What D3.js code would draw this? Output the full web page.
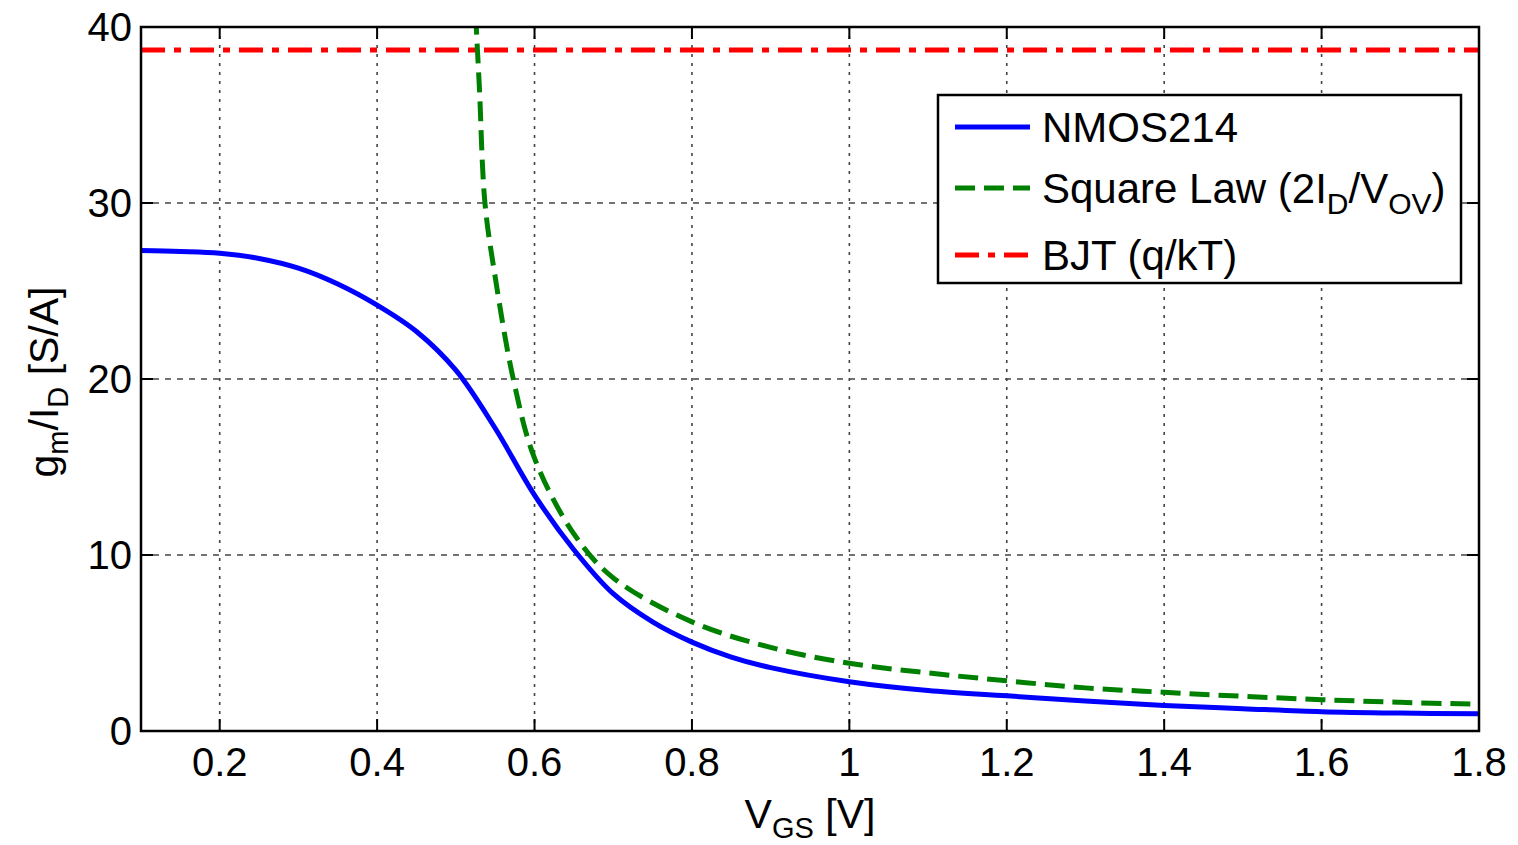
<!DOCTYPE html>
<html><head><meta charset="utf-8">
<script src="https://cdn.jsdelivr.net/npm/d3@7"></script>
<style>
html,body{margin:0;padding:0;background:#fff;}
text{font-family:"Liberation Sans",Arial,sans-serif;fill:#000;}
</style></head>
<body><svg id="chart" width="1518" height="845"></svg>
<script>
// ---- data ----
const xTicks = [0.2,0.4,0.6,0.8,1,1.2,1.4,1.6,1.8];
const yTicks = [0,10,20,30,40];
const nmosVgs = [0.1,0.15,0.2,0.25,0.3,0.35,0.4,0.45,0.5,0.55,0.6,0.65,0.7,0.75,0.8,0.85,0.9,1.0,1.1,1.2,1.3,1.4,1.5,1.6,1.7,1.8];
const nmosGm  = [27.3,27.25,27.15,26.85,26.3,25.4,24.2,22.7,20.5,17.2,13.4,10.3,7.8,6.2,5.05,4.2,3.6,2.8,2.3,2.0,1.7,1.45,1.27,1.1,1.02,0.98];
const sqVgs = [0.522,0.526,0.53,0.537,0.55,0.573,0.6,0.65,0.7,0.8,0.9,1.0,1.1,1.2,1.3,1.4,1.5,1.6,1.7,1.8];
const sqGm  = [44,40,36.5,30,25.8,20,15.5,11.2,8.7,6.2,4.75,3.85,3.3,2.85,2.45,2.2,1.97,1.78,1.63,1.52];
const bjtVgs = [0.1,1.8];
const bjtGm  = [38.7,38.7];
const legendLabels = ["NMOS214","Square Law","BJT (q/kT)"];

const svg = d3.select("#chart");
const L=141,R=1479,T=27,B=731;
const x = d3.scaleLinear().domain([0.1,1.8]).range([L,R]);
const y = d3.scaleLinear().domain([0,40]).range([B,T]);

// grid
const g = svg.append("g");
g.selectAll(".vg").data(xTicks.filter(d=>d<1.8)).join("line")
  .attr("x1",d=>x(d)).attr("x2",d=>x(d)).attr("y1",T).attr("y2",B)
  .attr("stroke","#444").attr("stroke-width",1.6).attr("stroke-dasharray","3,6");
g.selectAll(".hg").data(yTicks.filter(d=>d>0&&d<40)).join("line")
  .attr("x1",L).attr("x2",R).attr("y1",d=>y(d)).attr("y2",d=>y(d))
  .attr("stroke","#444").attr("stroke-width",1.6).attr("stroke-dasharray","6,6");

// ticks (inward, both sides)
g.selectAll(".xt").data(xTicks).join("g").each(function(d){
  const s=d3.select(this);
  s.append("line").attr("x1",x(d)).attr("x2",x(d)).attr("y1",B).attr("y2",B-12).attr("stroke","#000").attr("stroke-width",2);
  s.append("line").attr("x1",x(d)).attr("x2",x(d)).attr("y1",T).attr("y2",T+12).attr("stroke","#000").attr("stroke-width",2);
});
g.selectAll(".yt").data(yTicks).join("g").each(function(d){
  const s=d3.select(this);
  s.append("line").attr("x1",L).attr("x2",L+12).attr("y1",y(d)).attr("y2",y(d)).attr("stroke","#000").attr("stroke-width",2);
  s.append("line").attr("x1",R).attr("x2",R-12).attr("y1",y(d)).attr("y2",y(d)).attr("stroke","#000").attr("stroke-width",2);
});

// tick labels
const fmt = d=> String(+d.toFixed(1));
svg.selectAll(".xl").data(xTicks).join("text")
  .attr("x",d=>x(d)).attr("y",776).attr("text-anchor","middle")
  .attr("font-size",40).text(fmt);
svg.selectAll(".yl").data(yTicks).join("text")
  .attr("x",132).attr("y",d=>y(d)+14).attr("text-anchor","end")
  .attr("font-size",40).text(d=>d);

// clip
svg.append("clipPath").attr("id","clip").append("rect").attr("x",L).attr("y",T).attr("width",R-L).attr("height",B-T);
const plot = svg.append("g").attr("clip-path","url(#clip)");
const line = d3.line().x(d=>x(d[0])).y(d=>y(d[1])).curve(d3.curveCatmullRom.alpha(0.5));

plot.append("path").datum(bjtVgs.map((v,i)=>[v,bjtGm[i]])).attr("d",line)
  .attr("fill","none").attr("stroke","#ff0000").attr("stroke-width",5).attr("stroke-dasharray","24,9,7,9");
plot.append("path").datum(sqVgs.map((v,i)=>[v,sqGm[i]])).attr("d",line)
  .attr("fill","none").attr("stroke","#008000").attr("stroke-width",5).attr("stroke-dasharray","20,9");
plot.append("path").datum(nmosVgs.map((v,i)=>[v,nmosGm[i]])).attr("d",line)
  .attr("fill","none").attr("stroke","#0000ff").attr("stroke-width",5);

// frame
svg.append("rect").attr("x",L).attr("y",T).attr("width",R-L).attr("height",B-T)
  .attr("fill","none").attr("stroke","#000").attr("stroke-width",2.5);

// axis labels
const xl = svg.append("text").attr("x",810).attr("y",828).attr("text-anchor","middle").attr("font-size",41);
xl.append("tspan").text("V");
xl.append("tspan").attr("font-size",29).attr("dy",10).text("GS");
xl.append("tspan").attr("dy",-10).text(" [V]");

const yl = svg.append("text").attr("transform","translate(58,382) rotate(-90)").attr("text-anchor","middle").attr("font-size",41);
yl.append("tspan").text("g");
yl.append("tspan").attr("font-size",29).attr("dy",10).text("m");
yl.append("tspan").attr("dy",-10).text("/I");
yl.append("tspan").attr("font-size",29).attr("dy",10).text("D");
yl.append("tspan").attr("dy",-10).text(" [S/A]");

// legend
const lg = svg.append("g");
lg.append("rect").attr("x",938).attr("y",95).attr("width",523).attr("height",188)
  .attr("fill","#fff").attr("stroke","#000").attr("stroke-width",2.5);
const rows=[127,188,255];
const styles=[{c:"#0000ff",d:null},{c:"#008000",d:"20,9"},{c:"#ff0000",d:"24,9,7,9"}];
rows.forEach((ry,i)=>{
  lg.append("line").attr("x1",955).attr("x2",1030).attr("y1",ry).attr("y2",ry)
    .attr("stroke",styles[i].c).attr("stroke-width",5).attr("stroke-dasharray",styles[i].d);
});
const fs=42;
lg.append("text").attr("x",1042).attr("y",rows[0]+15).attr("font-size",fs).text(legendLabels[0]);
const t2 = lg.append("text").attr("x",1042).attr("y",rows[1]+15).attr("font-size",fs);
t2.append("tspan").text(legendLabels[1]+" (2I");
t2.append("tspan").attr("font-size",30).attr("dy",11).text("D");
t2.append("tspan").attr("dy",-11).text("/V");
t2.append("tspan").attr("font-size",30).attr("dy",11).text("OV");
t2.append("tspan").attr("dy",-11).text(")");
lg.append("text").attr("x",1042).attr("y",rows[2]+15).attr("font-size",fs).text(legendLabels[2]);
</script></body></html>
